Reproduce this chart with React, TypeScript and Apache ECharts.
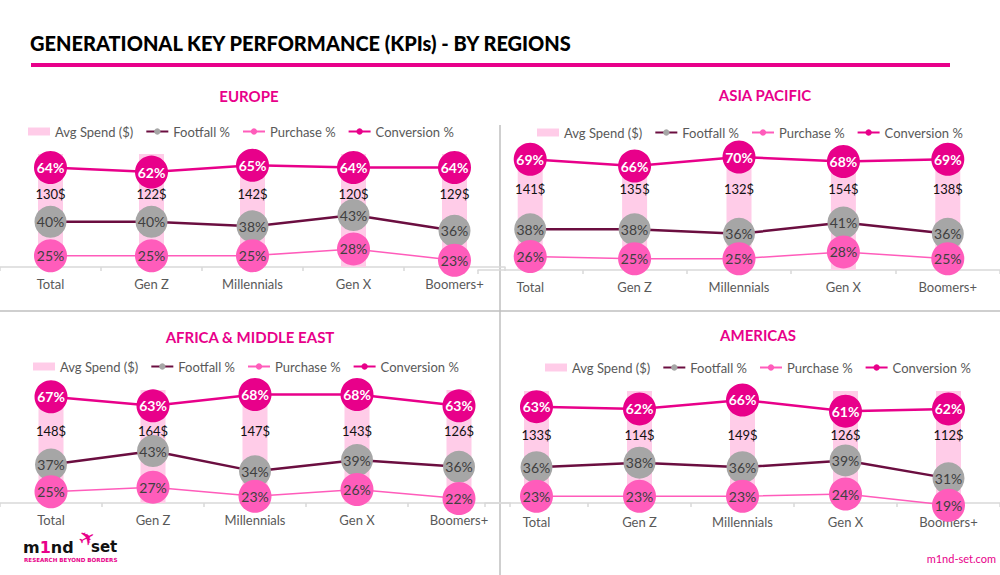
import React, { useEffect, useRef } from "react";
import * as echarts from "echarts";

const categories = ["Total", "Gen Z", "Millennials", "Gen X", "Boomers+"];
const legendNames = ["Avg Spend ($)", "Footfall %", "Purchase %", "Conversion %"];

const europeSpend = [130, 122, 142, 120, 129];
const europeFootfall = [40, 40, 38, 43, 36];
const europePurchase = [25, 25, 25, 28, 23];
const europeConversion = [64, 62, 65, 64, 64];

const asiaSpend = [141, 135, 132, 154, 138];
const asiaFootfall = [38, 38, 36, 41, 36];
const asiaPurchase = [26, 25, 25, 28, 25];
const asiaConversion = [69, 66, 70, 68, 69];

const africaSpend = [148, 164, 147, 143, 126];
const africaFootfall = [37, 43, 34, 39, 36];
const africaPurchase = [25, 27, 23, 26, 22];
const africaConversion = [67, 63, 68, 68, 63];

const americasSpend = [133, 114, 149, 126, 112];
const americasFootfall = [36, 38, 36, 39, 31];
const americasPurchase = [23, 23, 23, 24, 19];
const americasConversion = [63, 62, 66, 61, 62];

const regionTitles = ["EUROPE", "ASIA PACIFIC", "AFRICA & MIDDLE EAST", "AMERICAS"];

const PINK = "#E8008A";
const FONT = "Lato";

export default function App() {
  const ref = useRef<HTMLDivElement>(null);

  useEffect(() => {
    document.body.style.margin = "0";
    document.body.style.background = "#ffffff";
    if (!ref.current) return;
    const chart = echarts.init(ref.current, undefined, { renderer: "svg" });

    const panels = [
      { spend: europeSpend, foot: europeFootfall, purch: europePurchase, conv: europeConversion,
        grid: { left: -28, top: 154, width: 533, height: 113 }, legend: { left: 23, top: 120 },
        title: { x: 249, y: 96 }, labelDist: 33, axisMargin: 10 },
      { spend: asiaSpend, foot: asiaFootfall, purch: asiaPurchase, conv: asiaConversion,
        grid: { left: 478, top: 157, width: 536, height: 113 }, legend: { left: 532, top: 121 },
        title: { x: 765, y: 95 }, labelDist: 25, axisMargin: 10 },
      { spend: africaSpend, foot: africaFootfall, purch: africaPurchase, conv: africaConversion,
        grid: { left: -26, top: 390, width: 536, height: 113 }, legend: { left: 28, top: 355 },
        title: { x: 250, y: 337 }, labelDist: 34, axisMargin: 10 },
      { spend: americasSpend, foot: americasFootfall, purch: americasPurchase, conv: americasConversion,
        grid: { left: 485, top: 391, width: 536, height: 112 }, legend: { left: 540, top: 356 },
        title: { x: 758, y: 335 }, labelDist: 37, axisMargin: 12 },
    ];

    const grids: any[] = [];
    const xAxes: any[] = [];
    const yAxes: any[] = [];
    const series: any[] = [];
    const legends: any[] = [];
    const graphics: any[] = [];

    panels.forEach((p, i) => {
      grids.push({ ...p.grid, containLabel: false });
      xAxes.push({
        type: "category",
        gridIndex: i,
        data: categories,
        axisLine: { show: true, lineStyle: { color: "#D9D9D9", width: 1.5 } },
        axisTick: { show: true, length: 4, lineStyle: { color: "#D9D9D9", width: 1.5 } },
        axisLabel: { color: "#595959", fontSize: 13, margin: p.axisMargin, fontFamily: FONT, interval: 0 },
        splitLine: { show: false },
      });
      yAxes.push({ type: "value", gridIndex: i, min: 20, max: 70, show: false, splitLine: { show: false } });
      yAxes.push({ type: "value", gridIndex: i, min: 0, max: 100, show: false, splitLine: { show: false } });

      series.push({
        name: legendNames[0],
        type: "bar",
        xAxisIndex: i,
        yAxisIndex: i * 2 + 1,
        data: p.spend,
        barWidth: 25,
        clip: true,
        itemStyle: { color: "#FFCCE8" },
        z: 1,
        label: {
          show: true,
          position: "insideTop",
          distance: p.labelDist,
          formatter: "{c}$",
          color: "#111111",
          fontSize: 13,
          fontFamily: FONT,
        },
      });
      series.push({
        name: legendNames[1],
        type: "line",
        xAxisIndex: i,
        yAxisIndex: i * 2,
        data: p.foot,
        clip: false,
        symbol: "circle",
        symbolSize: 32,
        lineStyle: { color: "#6B0E40", width: 2.5 },
        itemStyle: { color: "#A6A6A6" },
        z: 2,
        label: { show: true, position: "inside", formatter: "{c}%", color: "#404040", fontSize: 14, fontFamily: FONT },
      });
      series.push({
        name: legendNames[2],
        type: "line",
        xAxisIndex: i,
        yAxisIndex: i * 2,
        data: p.purch,
        clip: false,
        symbol: "circle",
        symbolSize: 33,
        lineStyle: { color: "#FF5CBB", width: 1.5 },
        itemStyle: { color: "#FF5CBB" },
        z: 3,
        label: { show: true, position: "inside", formatter: "{c}%", color: "#404040", fontSize: 14, fontFamily: FONT },
      });
      series.push({
        name: legendNames[3],
        type: "line",
        xAxisIndex: i,
        yAxisIndex: i * 2,
        data: p.conv,
        clip: false,
        symbol: "circle",
        symbolSize: 33,
        lineStyle: { color: PINK, width: 2.5 },
        itemStyle: { color: PINK },
        z: 4,
        label: { show: true, position: "inside", formatter: "{c}%", color: "#ffffff", fontSize: 14, fontWeight: "bold", fontFamily: FONT },
      });

      legends.push({
        left: p.legend.left,
        top: p.legend.top,
        orient: "horizontal",
        itemWidth: 22,
        itemHeight: 8,
        itemGap: 12,
        selectedMode: false,
        textStyle: { color: "#595959", fontSize: 13, fontFamily: FONT },
        data: [
          { name: legendNames[0], icon: "rect" },
          legendNames[1],
          legendNames[2],
          legendNames[3],
        ],
      });

      graphics.push({
        type: "text",
        x: p.title.x,
        y: p.title.y,
        style: {
          text: regionTitles[i],
          fill: PINK,
          font: `bold 15px ${FONT}`,
          align: "center",
          verticalAlign: "middle",
        },
      });
    });

    graphics.push(
      {
        type: "text",
        x: 30,
        y: 43,
        style: {
          text: "GENERATIONAL KEY PERFORMANCE (KPIs) - BY REGIONS",
          fill: "#000000",
          font: `900 20px ${FONT}`,
          align: "left",
          verticalAlign: "middle",
        },
      },
      { type: "rect", shape: { x: 31, y: 63, width: 919, height: 4 }, style: { fill: PINK } },
      { type: "line", shape: { x1: 500, y1: 125, x2: 500, y2: 575 }, style: { stroke: "#BFBFBF", lineWidth: 1.5 } },
      { type: "line", shape: { x1: 0, y1: 311, x2: 1000, y2: 311 }, style: { stroke: "#BFBFBF", lineWidth: 1.5 } },
      {
        type: "text",
        x: 23,
        y: 547,
        style: {
          text: "{k|m}{p|1}{k|nd}",
          verticalAlign: "middle",
          rich: {
            k: { fill: "#111111", font: "900 16px 'DejaVu Sans'", lineHeight: 14 },
            p: { fill: PINK, font: "900 16px 'DejaVu Sans'", lineHeight: 14 },
          },
        },
      },
      {
        type: "text",
        x: 87,
        y: 538,
        rotation: 0.5,
        style: { text: "✈", fill: PINK, font: "20px 'DejaVu Sans'", align: "center", verticalAlign: "middle", lineHeight: 14 },
      },
      {
        type: "text",
        x: 91,
        y: 547,
        style: { text: "set", fill: "#111111", font: "900 15px 'DejaVu Sans'", verticalAlign: "middle", lineHeight: 14 },
      },
      {
        type: "text",
        x: 24,
        y: 560,
        style: { text: "RESEARCH BEYOND BORDERS", fill: PINK, font: "bold 5.6px 'DejaVu Sans'", verticalAlign: "middle" },
      },
      {
        type: "text",
        x: 996,
        y: 558,
        style: { text: "m1nd-set.com", fill: PINK, font: `11px ${FONT}`, align: "right", verticalAlign: "middle" },
      }
    );

    chart.setOption({
      animation: false,
      backgroundColor: "#ffffff",
      textStyle: { fontFamily: FONT },
      grid: grids,
      xAxis: xAxes,
      yAxis: yAxes,
      legend: legends,
      series,
      graphic: graphics,
    });

    return () => chart.dispose();
  }, []);

  return <div ref={ref} style={{ width: 1000, height: 575 }} />;
}
